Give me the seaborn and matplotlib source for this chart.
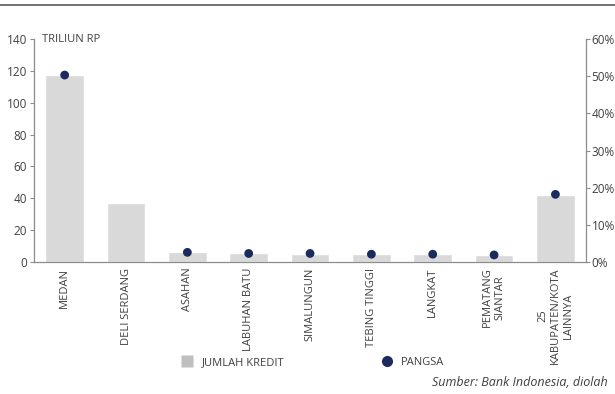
import numpy as np
import pandas as pd
import matplotlib
matplotlib.use("Agg")
import matplotlib.pyplot as plt
from matplotlib.lines import Line2D
from matplotlib.ticker import FuncFormatter
import seaborn as sns

# === Data ===
REGIONS = ['MEDAN', 'DELI SERDANG', 'ASAHAN', 'LABUHAN BATU', 'SIMALUNGUN',
           'TEBING TINGGI', 'LANGKAT', 'PEMATANG\nSIANTAR', '25\nKABUPATEN/KOTA\nLAINNYA']
KREDIT = [117.4, 37.0, 6.5, 5.8, 5.2, 5.2, 5.0, 4.6, 42.1]          # triliun Rp
PANGSA = [50.3, np.nan, 2.6, 2.3, 2.3, 2.1, 2.1, 1.9, 18.2]         # percent
LEFT_TICKS = [0, 20, 40, 60, 80, 100, 120, 140]
RIGHT_TICKS = [0, 10, 20, 30, 40, 50, 60]

BAR_COLOR = '#d9d9d9'
DOT_COLOR = '#1c2b5e'
TXT = '#404040'
SPINE = '#8c8c8c'

df = pd.DataFrame({'wilayah': REGIONS, 'kredit': KREDIT, 'pangsa': PANGSA})

sns.set_style('white')
plt.rcParams['font.family'] = ['Open Sans', 'DejaVu Sans']
plt.rcParams['font.size'] = 8

fig = plt.figure(figsize=(6.15, 3.94), dpi=100)
ax = fig.add_axes([0.0553, 0.335, 0.8977, 0.566])

sns.barplot(data=df, x='wilayah', y='kredit', color=BAR_COLOR, width=0.63,
            saturation=1, ax=ax)
ax.set_ylim(0, 140)
ax.set_xlim(-0.5, len(REGIONS) - 0.5)
ax.set_yticks(LEFT_TICKS)
ax.set_xlabel('')
ax.set_ylabel('')

# category labels centred, tick marks at the boundaries
ax.set_xticks(range(len(REGIONS)))
ax.set_xticklabels(REGIONS, rotation=90, multialignment='center', color=TXT, fontsize=8)
ax.tick_params(axis='x', which='major', length=0, pad=4)
ax.set_xticks(np.arange(-0.5, len(REGIONS)), minor=True)
ax.tick_params(axis='x', which='minor', length=3, color=SPINE, width=0.8)
ax.tick_params(axis='y', length=3, color=SPINE, width=0.8, labelcolor=TXT, labelsize=8.5, pad=2)

ax2 = ax.twinx()
sns.scatterplot(data=df, x='wilayah', y='pangsa', color=DOT_COLOR, s=40,
                edgecolor='none', ax=ax2, zorder=3)
ax2.set_ylim(0, 60)
ax2.set_yticks(RIGHT_TICKS)
ax2.yaxis.set_major_formatter(FuncFormatter(lambda v, p: f'{v:.0f}%'))
ax2.set_ylabel('')
ax2.tick_params(axis='y', length=3, color=SPINE, width=0.8, labelcolor=TXT, labelsize=8.5, pad=1)
ax2.set_xlim(-0.5, len(REGIONS) - 0.5)

for a in (ax, ax2):
    a.spines['top'].set_visible(False)
    for side in ('left', 'right', 'bottom'):
        a.spines[side].set_color(SPINE)
        a.spines[side].set_linewidth(0.9)
ax.spines['right'].set_visible(False)
ax2.spines['left'].set_visible(False)
ax2.spines['bottom'].set_visible(False)

ax.text(0.015, 1.0, 'TRILIUN RP', transform=ax.transAxes, ha='left', va='center',
        color=TXT, fontsize=8)

# top rule
fig.add_artist(Line2D([0, 1], [0.987, 0.987], transform=fig.transFigure,
                      color='#595959', linewidth=1.2))

# legend
handles = [Line2D([], [], marker='s', linestyle='none', markersize=8,
                  markerfacecolor='#bfbfbf', markeredgecolor='none', label='JUMLAH KREDIT'),
           Line2D([], [], marker='o', linestyle='none', markersize=8,
                  markerfacecolor=DOT_COLOR, markeredgecolor='none', label='PANGSA')]
fig.legend(handles=handles, loc='center', bbox_to_anchor=(0.508, 0.079), ncol=2,
           frameon=False, fontsize=8, labelcolor=TXT, handletextpad=0.7,
           columnspacing=8.6, handlelength=1.2)

fig.text(0.988, 0.028, 'Sumber: Bank Indonesia, diolah', ha='right', va='center',
         style='italic', color=TXT, fontsize=9)

fig.savefig('out.png', dpi=100)
